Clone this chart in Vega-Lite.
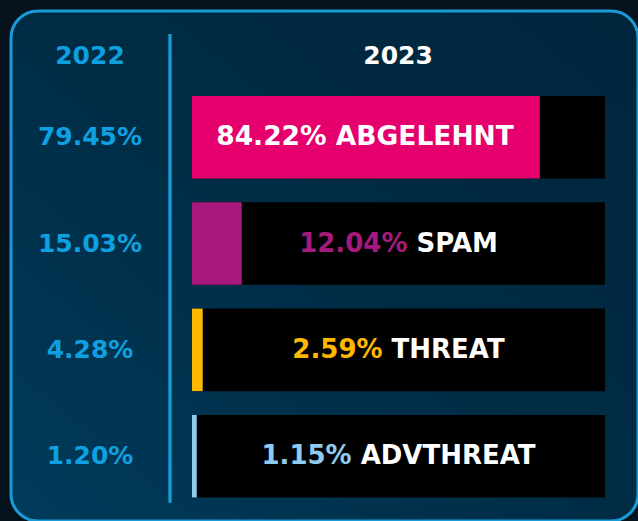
{
  "$schema": "https://vega.github.io/schema/vega-lite/v6.json",
  "autosize": {"type": "none"},
  "padding": {"left": 11, "top": 11, "right": 0, "bottom": 0},
  "width": 627,
  "height": 510,
  "background": "#06131d",
  "config": {
    "view": {
      "fill": {"gradient": "linear", "x1": 0, "y1": 1, "x2": 1, "y2": 0, "stops": [{"offset": 0, "color": "#003b5b"}, {"offset": 0.5, "color": "#002c45"}, {"offset": 1, "color": "#00263c"}]},
      "stroke": "#1a9bd8",
      "strokeWidth": 3,
      "cornerRadius": 27
    }
  },
  "data": {
    "values": [
      {"cat": "ABGELEHNT", "v2022": 79.45, "v2023": 84.22, "t2022": "79.45%", "label": "84.22% ABGELEHNT"},
      {"cat": "SPAM", "v2022": 15.03, "v2023": 12.04, "t2022": "15.03%", "label": "12.04% SPAM"},
      {"cat": "THREAT", "v2022": 4.28, "v2023": 2.59, "t2022": "4.28%", "label": "2.59% THREAT"},
      {"cat": "ADVTHREAT", "v2022": 1.20, "v2023": 1.15, "t2022": "1.20%", "label": "1.15% ADVTHREAT"}
    ]
  },
  "encoding": {
    "y": {
      "field": "cat",
      "type": "nominal",
      "axis": null,
      "scale": {"domain": ["ABGELEHNT", "SPAM", "THREAT", "ADVTHREAT"], "paddingInner": 0.224, "paddingOuter": 0.5102, "align": 0.783}
    }
  },
  "layer": [
    {
      "mark": {"type": "bar", "color": "#000000"},
      "encoding": {
        "x": {
          "datum": 0,
          "type": "quantitative",
          "scale": {"domain": [-43.83, 107.99], "nice": false, "zero": false},
          "axis": null
        },
        "x2": {"datum": 100}
      }
    },
    {
      "mark": {"type": "bar"},
      "encoding": {
        "x": {"field": "v2023", "type": "quantitative", "axis": null},
        "x2": {"datum": 0},
        "color": {
          "field": "cat",
          "type": "nominal",
          "legend": null,
          "scale": {"domain": ["ABGELEHNT", "SPAM", "THREAT", "ADVTHREAT"], "range": ["#e5006d", "#a8197d", "#ffb800", "#8ecbef"]}
        }
      }
    },
    {
      "mark": {"type": "rule", "color": "#1a9bd8", "strokeWidth": 2.5},
      "encoding": {
        "x": {"datum": -5.33, "type": "quantitative", "axis": null},
        "y": {"datum": "ABGELEHNT", "type": "nominal", "bandPosition": -0.75},
        "y2": {"datum": "ADVTHREAT", "bandPosition": 1.06}
      }
    },
    {
      "data": {"values": [{"header": "2022"}]},
      "mark": {"type": "text", "font": "DejaVu Sans", "fontWeight": "bold", "fontSize": 25, "color": "#0ea0e0", "baseline": "middle", "align": "center"},
      "encoding": {
        "x": {"datum": -24.7, "type": "quantitative", "axis": null},
        "y": {"datum": "ABGELEHNT", "type": "nominal", "bandPosition": -0.485},
        "text": {"field": "header"}
      }
    },
    {
      "data": {"values": [{"header": "2023"}]},
      "mark": {"type": "text", "font": "DejaVu Sans", "fontWeight": "bold", "fontSize": 25, "color": "#ffffff", "baseline": "middle", "align": "center"},
      "encoding": {
        "x": {"datum": 49.9, "type": "quantitative", "axis": null},
        "y": {"datum": "ABGELEHNT", "type": "nominal", "bandPosition": -0.485},
        "text": {"field": "header"}
      }
    },
    {
      "mark": {"type": "text", "font": "DejaVu Sans", "fontWeight": "bold", "fontSize": 25, "color": "#0ea0e0", "baseline": "middle", "align": "center"},
      "encoding": {
        "x": {"datum": -24.7, "type": "quantitative", "axis": null},
        "text": {"field": "t2022"}
      }
    },
    {
      "transform": [{"filter": "datum.v2023 > 50"}],
      "mark": {"type": "text", "font": "DejaVu Sans", "fontWeight": "bold", "fontSize": 26.5, "color": "#ffffff", "baseline": "middle", "align": "right", "dx": -26},
      "encoding": {
        "x": {"field": "v2023", "type": "quantitative", "axis": null},
        "text": {"field": "label"}
      }
    },
    {
      "transform": [{"filter": "datum.cat === 'SPAM'"}],
      "mark": {
        "type": "text", "font": "DejaVu Sans", "fontWeight": "bold", "fontSize": 26, "baseline": "middle", "align": "center",
        "fill": {"gradient": "linear", "x1": 0, "y1": 0, "x2": 1, "y2": 0, "stops": [{"offset": 0, "color": "#a8197d"}, {"offset": 0.56, "color": "#a8197d"}, {"offset": 0.56, "color": "#ffffff"}, {"offset": 1, "color": "#ffffff"}]}
      },
      "encoding": {
        "x": {"datum": 50, "type": "quantitative", "axis": null},
        "text": {"field": "label"}
      }
    },
    {
      "transform": [{"filter": "datum.cat === 'THREAT'"}],
      "mark": {
        "type": "text", "font": "DejaVu Sans", "fontWeight": "bold", "fontSize": 26, "baseline": "middle", "align": "center",
        "fill": {"gradient": "linear", "x1": 0, "y1": 0, "x2": 1, "y2": 0, "stops": [{"offset": 0, "color": "#ffb800"}, {"offset": 0.442, "color": "#ffb800"}, {"offset": 0.442, "color": "#ffffff"}, {"offset": 1, "color": "#ffffff"}]}
      },
      "encoding": {
        "x": {"datum": 50, "type": "quantitative", "axis": null},
        "text": {"field": "label"}
      }
    },
    {
      "transform": [{"filter": "datum.cat === 'ADVTHREAT'"}],
      "mark": {
        "type": "text", "font": "DejaVu Sans", "fontWeight": "bold", "fontSize": 26, "baseline": "middle", "align": "center",
        "fill": {"gradient": "linear", "x1": 0, "y1": 0, "x2": 1, "y2": 0, "stops": [{"offset": 0, "color": "#8ecbef"}, {"offset": 0.343, "color": "#8ecbef"}, {"offset": 0.343, "color": "#ffffff"}, {"offset": 1, "color": "#ffffff"}]}
      },
      "encoding": {
        "x": {"datum": 50, "type": "quantitative", "axis": null},
        "text": {"field": "label"}
      }
    }
  ]
}
